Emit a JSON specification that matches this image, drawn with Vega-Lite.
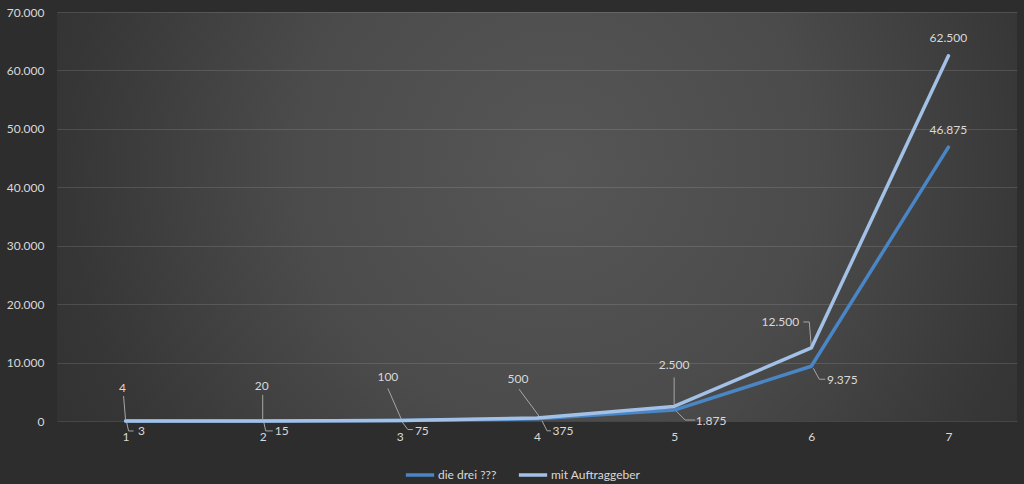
{
  "$schema": "https://vega.github.io/schema/vega-lite/v6.json",
  "width": 960,
  "height": 409,
  "autosize": {"type": "none"},
  "padding": {"left": 57, "top": 12, "right": 7, "bottom": 63},
  "background": "#2d2d2d",
  "config": {
    "locale": {"number": {"decimal": ",", "thousands": ".", "grouping": [3], "currency": ["", " €"]}},
    "view": {
      "stroke": null,
      "fill": {
        "gradient": "radial",
        "x1": 0.52, "y1": 0.45, "x2": 0.52, "y2": 0.45,
        "r1": 0, "r2": 0.68,
        "stops": [
          {"offset": 0, "color": "#565656"},
          {"offset": 0.4, "color": "#4b4b4b"},
          {"offset": 0.75, "color": "#363636"},
          {"offset": 1, "color": "#2d2d2d"}
        ]
      }
    },
    "font": "Lato",
    "text": {"font": "Lato", "fontSize": 12, "fill": "#d9d9d9"},
    "rule": {"stroke": "#a6a6a6", "strokeWidth": 1}
  },
  "data": {
    "values": [
      {"x": "1", "series": "die drei ???", "value": 3},
      {"x": "2", "series": "die drei ???", "value": 15},
      {"x": "3", "series": "die drei ???", "value": 75},
      {"x": "4", "series": "die drei ???", "value": 375},
      {"x": "5", "series": "die drei ???", "value": 1875},
      {"x": "6", "series": "die drei ???", "value": 9375},
      {"x": "7", "series": "die drei ???", "value": 46875},
      {"x": "1", "series": "mit Auftraggeber", "value": 4},
      {"x": "2", "series": "mit Auftraggeber", "value": 20},
      {"x": "3", "series": "mit Auftraggeber", "value": 100},
      {"x": "4", "series": "mit Auftraggeber", "value": 500},
      {"x": "5", "series": "mit Auftraggeber", "value": 2500},
      {"x": "6", "series": "mit Auftraggeber", "value": 12500},
      {"x": "7", "series": "mit Auftraggeber", "value": 62500}
    ]
  },
  "encoding": {
    "x": {
      "field": "x", "type": "ordinal",
      "scale": {"type": "point", "padding": 0.5},
      "axis": {
        "title": null, "labelAngle": 0, "domain": false, "ticks": false,
        "labelColor": "#d9d9d9", "labelFont": "Lato", "labelFontSize": 12,
        "labelPadding": 10, "grid": false
      }
    },
    "y": {
      "field": "value", "type": "quantitative",
      "scale": {"domain": [0, 70000], "nice": false},
      "axis": {
        "title": null, "format": ",.0f", "values": [0, 10000, 20000, 30000, 40000, 50000, 60000, 70000],
        "labelOverlap": false,
        "domain": false, "ticks": false, "labelPadding": 13,
        "labelColor": "#d9d9d9", "labelFont": "Lato", "labelFontSize": 12,
        "gridColor": "#ffffff", "gridOpacity": 0.12, "gridWidth": 1
      }
    }
  },
  "layer": [
    {"transform": [{"filter": "datum.series==='mit Auftraggeber' && datum.x==='1'"}], "mark": {"type": "rule", "xOffset": -2, "yOffset": -25, "x2Offset": 0, "y2Offset": -1}, "encoding": {"x2": {"field": "x"}, "y2": {"field": "value"}}},
    {"transform": [{"filter": "datum.series==='mit Auftraggeber' && datum.x==='2'"}], "mark": {"type": "rule", "xOffset": 0, "yOffset": -26, "x2Offset": 0, "y2Offset": -1}, "encoding": {"x2": {"field": "x"}, "y2": {"field": "value"}}},
    {"transform": [{"filter": "datum.series==='mit Auftraggeber' && datum.x==='3'"}], "mark": {"type": "rule", "xOffset": -12, "yOffset": -32, "x2Offset": 2, "y2Offset": 0}, "encoding": {"x2": {"field": "x"}, "y2": {"field": "value"}}},
    {"transform": [{"filter": "datum.series==='mit Auftraggeber' && datum.x==='4'"}], "mark": {"type": "rule", "xOffset": -18, "yOffset": -29, "x2Offset": 5, "y2Offset": 2}, "encoding": {"x2": {"field": "x"}, "y2": {"field": "value"}}},
    {"transform": [{"filter": "datum.series==='mit Auftraggeber' && datum.x==='5'"}], "mark": {"type": "rule", "xOffset": 0, "yOffset": -29, "x2Offset": 0, "y2Offset": -1}, "encoding": {"x2": {"field": "x"}, "y2": {"field": "value"}}},
    {"transform": [{"filter": "datum.series==='mit Auftraggeber' && datum.x==='6'"}], "mark": {"type": "rule", "xOffset": -8, "yOffset": -26, "x2Offset": -2, "y2Offset": -26}, "encoding": {"x2": {"field": "x"}, "y2": {"field": "value"}}},
    {"transform": [{"filter": "datum.series==='mit Auftraggeber' && datum.x==='6'"}], "mark": {"type": "rule", "xOffset": -2, "yOffset": -26, "x2Offset": 0, "y2Offset": -1}, "encoding": {"x2": {"field": "x"}, "y2": {"field": "value"}}},
    {"transform": [{"filter": "datum.series==='die drei ???' && datum.x==='1'"}], "mark": {"type": "rule", "xOffset": 1, "yOffset": 1, "x2Offset": 3, "y2Offset": 10}, "encoding": {"x2": {"field": "x"}, "y2": {"field": "value"}}},
    {"transform": [{"filter": "datum.series==='die drei ???' && datum.x==='1'"}], "mark": {"type": "rule", "xOffset": 3, "yOffset": 10, "x2Offset": 8, "y2Offset": 10}, "encoding": {"x2": {"field": "x"}, "y2": {"field": "value"}}},
    {"transform": [{"filter": "datum.series==='die drei ???' && datum.x==='2'"}], "mark": {"type": "rule", "xOffset": 1, "yOffset": 1, "x2Offset": 3, "y2Offset": 10}, "encoding": {"x2": {"field": "x"}, "y2": {"field": "value"}}},
    {"transform": [{"filter": "datum.series==='die drei ???' && datum.x==='2'"}], "mark": {"type": "rule", "xOffset": 3, "yOffset": 10, "x2Offset": 10, "y2Offset": 10}, "encoding": {"x2": {"field": "x"}, "y2": {"field": "value"}}},
    {"transform": [{"filter": "datum.series==='die drei ???' && datum.x==='3'"}], "mark": {"type": "rule", "xOffset": 2, "yOffset": 1, "x2Offset": 8, "y2Offset": 9}, "encoding": {"x2": {"field": "x"}, "y2": {"field": "value"}}},
    {"transform": [{"filter": "datum.series==='die drei ???' && datum.x==='3'"}], "mark": {"type": "rule", "xOffset": 8, "yOffset": 9, "x2Offset": 13, "y2Offset": 9}, "encoding": {"x2": {"field": "x"}, "y2": {"field": "value"}}},
    {"transform": [{"filter": "datum.series==='die drei ???' && datum.x==='4'"}], "mark": {"type": "rule", "xOffset": 5, "yOffset": 2, "x2Offset": 10, "y2Offset": 12}, "encoding": {"x2": {"field": "x"}, "y2": {"field": "value"}}},
    {"transform": [{"filter": "datum.series==='die drei ???' && datum.x==='4'"}], "mark": {"type": "rule", "xOffset": 10, "yOffset": 12, "x2Offset": 14, "y2Offset": 12}, "encoding": {"x2": {"field": "x"}, "y2": {"field": "value"}}},
    {"transform": [{"filter": "datum.series==='die drei ???' && datum.x==='5'"}], "mark": {"type": "rule", "xOffset": 2, "yOffset": 1, "x2Offset": 11, "y2Offset": 10}, "encoding": {"x2": {"field": "x"}, "y2": {"field": "value"}}},
    {"transform": [{"filter": "datum.series==='die drei ???' && datum.x==='5'"}], "mark": {"type": "rule", "xOffset": 11, "yOffset": 10, "x2Offset": 21, "y2Offset": 10}, "encoding": {"x2": {"field": "x"}, "y2": {"field": "value"}}},
    {"transform": [{"filter": "datum.series==='die drei ???' && datum.x==='6'"}], "mark": {"type": "rule", "xOffset": 2, "yOffset": 2, "x2Offset": 8, "y2Offset": 13}, "encoding": {"x2": {"field": "x"}, "y2": {"field": "value"}}},
    {"transform": [{"filter": "datum.series==='die drei ???' && datum.x==='6'"}], "mark": {"type": "rule", "xOffset": 8, "yOffset": 13, "x2Offset": 14, "y2Offset": 13}, "encoding": {"x2": {"field": "x"}, "y2": {"field": "value"}}},
    {
      "mark": {"type": "line", "strokeWidth": 3.5, "strokeCap": "round", "strokeJoin": "round"},
      "encoding": {
        "color": {
          "field": "series", "type": "nominal",
          "scale": {"domain": ["die drei ???", "mit Auftraggeber"], "range": ["#4a86c5", "#a3c1e6"]},
          "legend": {
            "title": null, "orient": "none", "direction": "horizontal",
            "legendX": 347, "legendY": 447,
            "symbolType": "stroke", "symbolSize": 800, "symbolStrokeWidth": 3.5,
            "labelColor": "#d9d9d9", "labelFont": "Lato", "labelFontSize": 12,
            "columnPadding": 14, "labelOffset": 2
          }
        }
      }
    },
    {"transform": [{"filter": "datum.series==='mit Auftraggeber' && datum.x==='1'"}], "mark": {"type": "text", "dx": -3, "dy": -33}, "encoding": {"text": {"field": "value", "format": ","}}},
    {"transform": [{"filter": "datum.series==='mit Auftraggeber' && datum.x==='2'"}], "mark": {"type": "text", "dx": -1, "dy": -35}, "encoding": {"text": {"field": "value", "format": ","}}},
    {"transform": [{"filter": "datum.series==='mit Auftraggeber' && datum.x==='3'"}], "mark": {"type": "text", "dx": -12, "dy": -43}, "encoding": {"text": {"field": "value", "format": ","}}},
    {"transform": [{"filter": "datum.series==='mit Auftraggeber' && datum.x==='4'"}], "mark": {"type": "text", "dx": -19, "dy": -39}, "encoding": {"text": {"field": "value", "format": ","}}},
    {"transform": [{"filter": "datum.series==='mit Auftraggeber' && datum.x==='5'"}], "mark": {"type": "text", "dx": 0, "dy": -41}, "encoding": {"text": {"field": "value", "format": ","}}},
    {"transform": [{"filter": "datum.series==='mit Auftraggeber' && datum.x==='6'"}], "mark": {"type": "text", "dx": -31, "dy": -26}, "encoding": {"text": {"field": "value", "format": ","}}},
    {"transform": [{"filter": "datum.series==='mit Auftraggeber' && datum.x==='7'"}], "mark": {"type": "text", "dx": 0, "dy": -18}, "encoding": {"text": {"field": "value", "format": ","}}},
    {"transform": [{"filter": "datum.series==='die drei ???' && datum.x==='1'"}], "mark": {"type": "text", "dx": 16, "dy": 10}, "encoding": {"text": {"field": "value", "format": ","}}},
    {"transform": [{"filter": "datum.series==='die drei ???' && datum.x==='2'"}], "mark": {"type": "text", "dx": 19, "dy": 10}, "encoding": {"text": {"field": "value", "format": ","}}},
    {"transform": [{"filter": "datum.series==='die drei ???' && datum.x==='3'"}], "mark": {"type": "text", "dx": 22, "dy": 10}, "encoding": {"text": {"field": "value", "format": ","}}},
    {"transform": [{"filter": "datum.series==='die drei ???' && datum.x==='4'"}], "mark": {"type": "text", "dx": 26, "dy": 12}, "encoding": {"text": {"field": "value", "format": ","}}},
    {"transform": [{"filter": "datum.series==='die drei ???' && datum.x==='5'"}], "mark": {"type": "text", "dx": 37, "dy": 11}, "encoding": {"text": {"field": "value", "format": ","}}},
    {"transform": [{"filter": "datum.series==='die drei ???' && datum.x==='6'"}], "mark": {"type": "text", "dx": 31, "dy": 14}, "encoding": {"text": {"field": "value", "format": ","}}},
    {"transform": [{"filter": "datum.series==='die drei ???' && datum.x==='7'"}], "mark": {"type": "text", "dx": 0, "dy": -17}, "encoding": {"text": {"field": "value", "format": ","}}}
  ]
}
